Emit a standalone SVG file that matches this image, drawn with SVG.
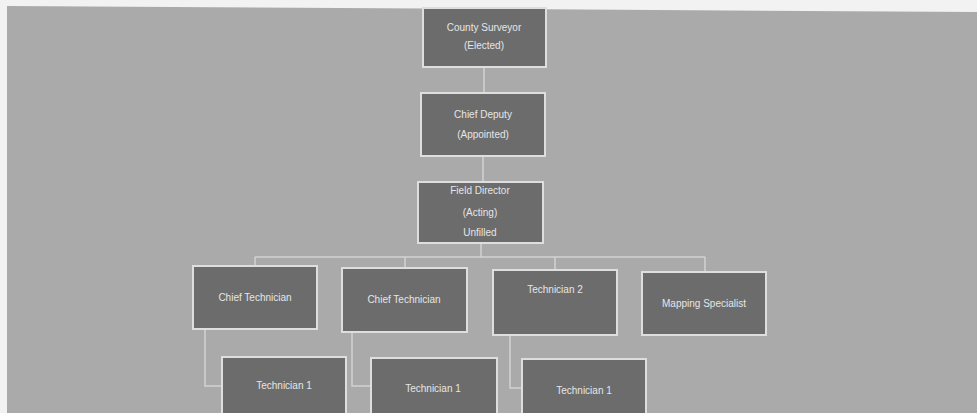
<svg xmlns="http://www.w3.org/2000/svg" width="977" height="413" viewBox="0 0 977 413">
<style>
.bx{fill:#6c6c6c;stroke:#dedede;stroke-width:2}
.t{font-family:"Liberation Sans",Arial,sans-serif;font-size:10px;fill:#e6e6e6;text-anchor:middle}
.c{fill:none;stroke:#d2d2d2;stroke-width:1.5}
</style>
<rect width="977" height="413" fill="#f2f2f2"/>
<polygon points="7,6 977,12 977,413 7,413" fill="#aaaaaa"/>
<g id="connectors">
<path class="c" d="M484,67 V93 M483,156 V182 M481,243 V257 M255,257 H705 M255,257 V266 M405,257 V268 M555,257 V270 M705,257 V272"/>
<path class="c" d="M205,329 V386 H222 M352,332 V386 H370 M510,335 V388 H522"/>
</g>
<g id="county-surveyor"><rect class="bx" x="423" y="8" width="123" height="59"/><text class="t" x="484" y="31">County Surveyor</text><text class="t" x="484" y="49">(Elected)</text></g>
<g id="chief-deputy"><rect class="bx" x="421" y="93" width="124" height="63"/><text class="t" x="483" y="118">Chief Deputy</text><text class="t" x="483" y="138">(Appointed)</text></g>
<g id="field-director"><rect class="bx" x="418" y="182" width="125" height="61"/><text class="t" x="480" y="194">Field Director</text><text class="t" x="480" y="216">(Acting)</text><text class="t" x="480" y="236">Unfilled</text></g>
<g id="chief-tech-1"><rect class="bx" x="193" y="266" width="124" height="63"/><text class="t" x="255" y="301">Chief Technician</text></g>
<g id="chief-tech-2"><rect class="bx" x="342" y="268" width="125" height="64"/><text class="t" x="404" y="303">Chief Technician</text></g>
<g id="technician-2"><rect class="bx" x="493" y="270" width="124" height="65"/><text class="t" x="555" y="293">Technician 2</text></g>
<g id="mapping-specialist"><rect class="bx" x="642" y="272" width="124" height="63"/><text class="t" x="704" y="307">Mapping Specialist</text></g>
<g id="technician-1a"><rect class="bx" x="222" y="357" width="124" height="60"/><text class="t" x="284" y="389">Technician 1</text></g>
<g id="technician-1b"><rect class="bx" x="371" y="358" width="126" height="59"/><text class="t" x="433" y="392">Technician 1</text></g>
<g id="technician-1c"><rect class="bx" x="522" y="359" width="124" height="58"/><text class="t" x="584" y="394">Technician 1</text></g>
</svg>
